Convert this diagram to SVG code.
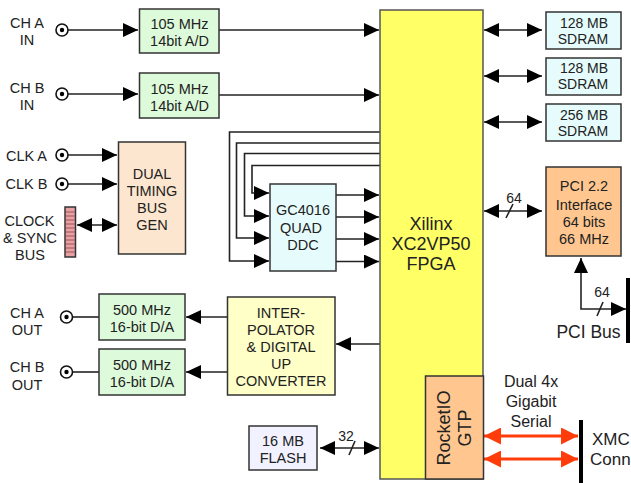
<svg xmlns="http://www.w3.org/2000/svg" width="631" height="483" viewBox="0 0 631 483">
<style>
text{font-family:"Liberation Sans",Arial,sans-serif;font-size:14.500px;fill:#222;text-anchor:middle}
.s{font-size:14.500px}
.t{font-size:14px}
.f{font-size:18px}
.g{font-size:16px}
.x{font-size:17px;text-anchor:start}
.b{stroke:#333;stroke-width:1.5}
.l{stroke:#222;stroke-width:1.6;fill:none}
.r{stroke:#ff3c0a;stroke-width:3;fill:none}
.jack{fill:#fff;stroke:#111;stroke-width:1.6}
</style>
<defs>
<marker id="a" markerUnits="userSpaceOnUse" markerWidth="15" markerHeight="14" refX="15" refY="7" orient="auto-start-reverse"><path d="M0 0L15 7L0 14Z" fill="#000"/></marker>
<marker id="ar" markerUnits="userSpaceOnUse" markerWidth="17" markerHeight="17" refX="17" refY="8.5" orient="auto-start-reverse"><path d="M0 0L17 8.5L0 17Z" fill="#ff3c0a"/></marker>
<g id="j"><circle r="6" class="jack"/><circle r="2.2" fill="#000"/></g>
</defs>
<g id="connectors">
<path class="l" d="M68 30H138" marker-end="url(#a)"/>
<path class="l" d="M68 94H138" marker-end="url(#a)"/>
<path class="l" d="M219 30H379" marker-end="url(#a)"/>
<path class="l" d="M219 95H379" marker-end="url(#a)"/>
<path class="l" d="M68 155H117" marker-end="url(#a)"/>
<path class="l" d="M68 184H117" marker-end="url(#a)"/>
<path class="l" d="M77 225H117" marker-start="url(#a)" marker-end="url(#a)"/>
<path class="l" d="M380 132H229.500V261H269" marker-end="url(#a)"/>
<path class="l" d="M380 143H236.500V238H269" marker-end="url(#a)"/>
<path class="l" d="M380 153.500H244.500V216H269" marker-end="url(#a)"/>
<path class="l" d="M380 165.500H252V193H269" marker-end="url(#a)"/>
<path class="l" d="M336 195H379" marker-end="url(#a)"/>
<path class="l" d="M336 217H379" marker-end="url(#a)"/>
<path class="l" d="M336 239H379" marker-end="url(#a)"/>
<path class="l" d="M336 261.500H379" marker-end="url(#a)"/>
<path class="l" d="M72 317H99"/>
<path class="l" d="M72 372H99"/>
<path class="l" d="M228 317H186" marker-end="url(#a)"/>
<path class="l" d="M228 372H186" marker-end="url(#a)"/>
<path class="l" d="M380 344H336" marker-end="url(#a)"/>
<path class="l" d="M320 448H379" marker-start="url(#a)" marker-end="url(#a)"/>
<path class="l" d="M349 455L355 441"/>
<path class="l" d="M484 30H542" marker-start="url(#a)" marker-end="url(#a)"/>
<path class="l" d="M484 76H542" marker-start="url(#a)" marker-end="url(#a)"/>
<path class="l" d="M484 122H542" marker-start="url(#a)" marker-end="url(#a)"/>
<path class="l" d="M484 211H542" marker-start="url(#a)" marker-end="url(#a)"/>
<path class="l" d="M506 218L513 204"/>
<path class="l" d="M581 258V309H626" marker-start="url(#a)" marker-end="url(#a)"/>
<path class="l" d="M597 316L603 302"/>
<path class="r" d="M484 436H578" marker-start="url(#ar)" marker-end="url(#ar)"/>
<path class="r" d="M484 459H578" marker-start="url(#ar)" marker-end="url(#ar)"/>
<text x="346" y="441" class="t">32</text>
<text x="514" y="203" class="t">64</text>
<text x="602" y="297" class="t">64</text>
</g>
<g id="ch-a-in"><use href="#j" x="62" y="30"/><text x="27" y="28">CH A</text><text x="27" y="45">IN</text></g>
<g id="ch-b-in"><use href="#j" x="62" y="94"/><text x="27" y="93">CH B</text><text x="27" y="110">IN</text></g>
<g id="ad-a"><rect x="139.500" y="9" width="79.500" height="44" fill="#ddfbdb" class="b"/><text x="179.500" y="29" class="s">105 MHz</text><text x="179.500" y="46" class="s">14bit A/D</text></g>
<g id="ad-b"><rect x="139.500" y="73" width="79.500" height="45" fill="#ddfbdb" class="b"/><text x="179.500" y="94" class="s">105 MHz</text><text x="179.500" y="111" class="s">14bit A/D</text></g>
<g id="clk-a"><use href="#j" x="62" y="155"/><text x="26.500" y="161">CLK A</text></g>
<g id="clk-b"><use href="#j" x="62" y="184"/><text x="26.500" y="189">CLK B</text></g>
<g id="sync-bus"><rect x="65" y="207" width="10.500" height="50" fill="#e8a0a0" stroke="#333" stroke-width="1.500"/><path d="M66 212H75M66 216H75M66 220H75M66 224H75M66 228H75M66 232H75M66 236H75M66 240H75M66 244H75M66 248H75M66 252H75" stroke="#a05060" stroke-width="1"/><text x="29.500" y="226">CLOCK</text><text x="30" y="243">&amp; SYNC</text><text x="30" y="260">BUS</text></g>
<g id="timing"><rect x="118.500" y="142" width="67" height="112" fill="#fde6cf" class="b"/><text x="152" y="179">DUAL</text><text x="152" y="196">TIMING</text><text x="152" y="213">BUS</text><text x="152" y="230">GEN</text></g>
<g id="ddc"><rect x="270" y="184" width="66" height="87" fill="#e6fcfc" class="b"/><text x="303" y="215" class="s">GC4016</text><text x="301" y="233" class="s">QUAD</text><text x="303" y="250" class="s">DDC</text></g>
<g id="fpga"><rect x="380" y="10" width="103" height="469" fill="#ffff66" stroke="#555" stroke-width="1.500"/><text x="431" y="230" class="f">Xilinx</text><text x="431" y="250" class="f">XC2VP50</text><text x="431" y="270" class="f">FPGA</text></g>
<g id="rocketio"><rect x="425.500" y="376" width="58" height="103" fill="#ffc78f" class="b"/><text transform="translate(450 428) rotate(-90)" class="f">RocketIO</text><text transform="translate(471 428) rotate(-90)" class="f">GTP</text></g>
<g id="da-a"><use href="#j" x="66.500" y="317"/><rect x="99" y="294" width="86" height="46" fill="#ddfbdb" class="b"/><text x="142" y="315" class="s">500 MHz</text><text x="142" y="332" class="s">16-bit D/A</text><text x="27" y="318">CH A</text><text x="27" y="335">OUT</text></g>
<g id="da-b"><use href="#j" x="66.500" y="372"/><rect x="99" y="349" width="86" height="46" fill="#ddfbdb" class="b"/><text x="142" y="370" class="s">500 MHz</text><text x="142" y="387" class="s">16-bit D/A</text><text x="27" y="372">CH B</text><text x="27" y="390">OUT</text></g>
<g id="interp"><rect x="227.500" y="297" width="107.500" height="98" fill="#ffffc8" class="b"/><text x="281" y="318" class="s">INTER-</text><text x="281" y="335" class="s">POLATOR</text><text x="281" y="352" class="s">&amp; DIGITAL</text><text x="281" y="369" class="s">UP</text><text x="281" y="386" class="s">CONVERTER</text></g>
<g id="flash"><rect x="249" y="426" width="68" height="44" fill="#f1f1ff" class="b"/><text x="283" y="446" class="s">16 MB</text><text x="283" y="463" class="s">FLASH</text></g>
<g id="sdram-1"><rect x="546" y="12" width="75" height="37" fill="#e6fcfc" class="b"/><text x="584" y="28" class="t">128 MB</text><text x="583" y="44" class="t">SDRAM</text></g>
<g id="sdram-2"><rect x="546" y="58" width="75" height="37" fill="#e6fcfc" class="b"/><text x="584" y="73" class="t">128 MB</text><text x="583" y="89" class="t">SDRAM</text></g>
<g id="sdram-3"><rect x="546" y="104" width="75" height="37" fill="#e6fcfc" class="b"/><text x="584" y="120" class="t">256 MB</text><text x="583" y="136" class="t">SDRAM</text></g>
<g id="pci"><rect x="546" y="167" width="75" height="89" fill="#ffc78f" class="b"/><text x="584" y="191" class="s">PCI 2.2</text><text x="584" y="210" class="s">Interface</text><text x="584" y="227" class="s">64 bits</text><text x="584" y="244" class="s">66 MHz</text></g>
<g id="pci-bus"><rect x="626" y="278" width="4" height="65" fill="#000"/><text x="588.500" y="338" style="font-size:17.500px">PCI Bus</text></g>
<g id="xmc"><rect x="579" y="420" width="4" height="63" fill="#000"/><text x="592" y="445" class="x">XMC</text><text x="590" y="465" class="x">Conn</text><text x="531" y="387" class="g">Dual 4x</text><text x="531" y="407" class="g">Gigabit</text><text x="531" y="427" class="g">Serial</text></g>
</svg>
